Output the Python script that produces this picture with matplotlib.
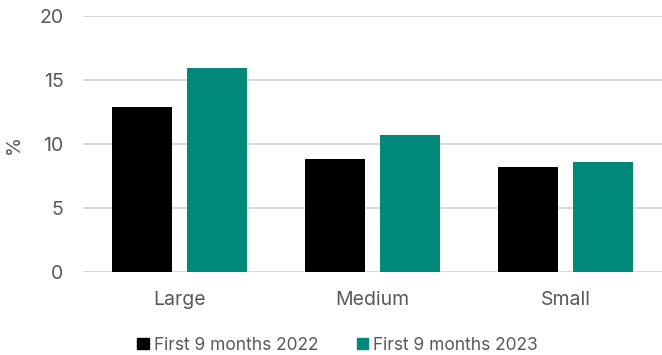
import matplotlib
matplotlib.use("Agg")
import matplotlib.pyplot as plt
import numpy as np
from matplotlib.patches import Patch

plt.rcParams["font.family"] = ["Inter", "DejaVu Sans"]

categories = ["Large", "Medium", "Small"]
series_names = ["First 9 months 2022", "First 9 months 2023"]
values_2022 = [12.9, 8.8, 8.2]
values_2023 = [15.9, 10.7, 8.6]
colors = ["#000000", "#00887A"]
text_grey = "#595959"

fig = plt.figure(figsize=(6.62, 3.55), dpi=100)
ax = fig.add_axes([83 / 662, 1 - 272 / 355, 1 - 83 / 662, 256 / 355])

x = np.arange(len(categories))
w = 0.31
off = 0.196
ax.bar(x - off, values_2022, w, color=colors[0], zorder=3)
ax.bar(x + off, values_2023, w, color=colors[1], zorder=3)

ax.set_xlim(-0.5, 2.5)
ax.set_ylim(0, 20)
ax.set_yticks([0, 5, 10, 15, 20])
ax.yaxis.grid(True, color="#d9d9d9", lw=1.5, zorder=0)
ax.set_axisbelow(True)
for s in ax.spines.values():
    s.set_visible(False)
ax.tick_params(length=0, labelsize=14, colors=text_grey, pad=14)
ax.tick_params(axis="x", labelsize=14, pad=14)
ax.set_xticks(x)
ax.set_xticklabels(categories)
ax.set_ylabel("%", fontsize=14, color=text_grey, labelpad=12)

handles = [Patch(color=c) for c in colors]
fig.legend(handles, series_names, loc="center", bbox_to_anchor=(0.51, 1 - 345 / 355),
           ncol=2, frameon=False, fontsize=12.5, labelcolor=text_grey,
           handlelength=0.65, handleheight=0.65, handletextpad=0.3, columnspacing=2.2,
           borderpad=0)

fig.savefig("out.png", dpi=100)
